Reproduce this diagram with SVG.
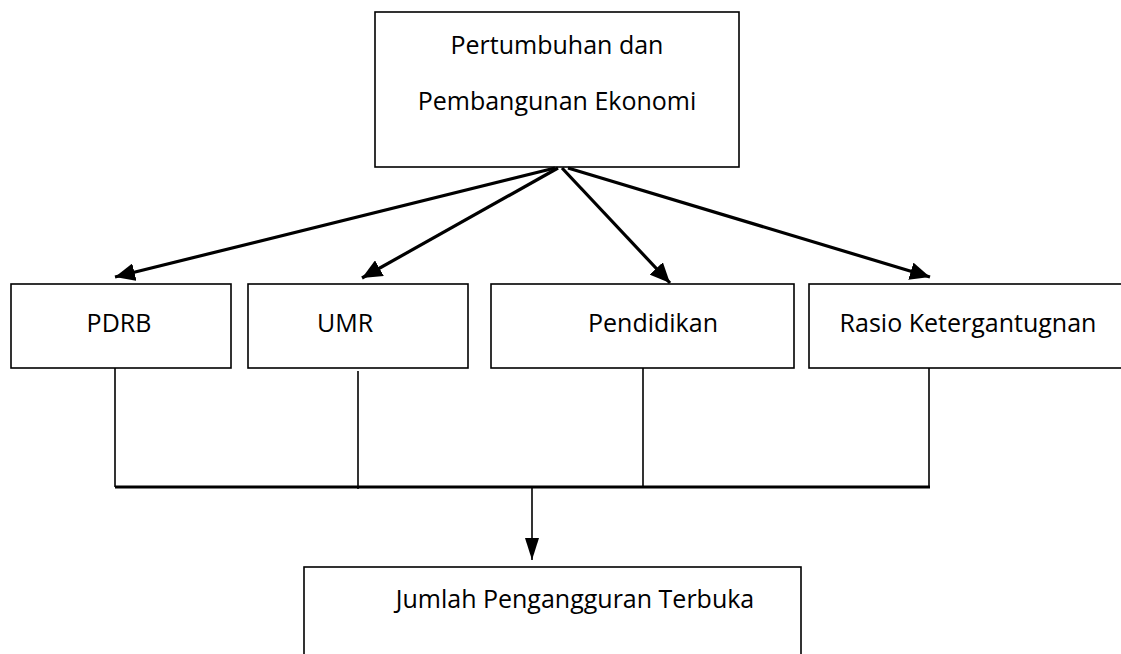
<svg xmlns="http://www.w3.org/2000/svg" width="1121" height="654" viewBox="0 0 1121 654">
<style>
.box{fill:#fff;stroke:#000;stroke-width:1.6}
.t{font-family:"Open Sans","Liberation Sans",sans-serif;font-size:25px;fill:#000;text-anchor:middle}
.arr{stroke:#000;stroke-width:3.2;fill:none;marker-end:url(#ah)}
.thin{stroke:#000;stroke-width:1.6;fill:none}
.bus{stroke:#000;stroke-width:3;fill:none}
</style>
<defs>
<marker id="ah" markerUnits="userSpaceOnUse" markerWidth="22" markerHeight="18" refX="20" refY="9" orient="auto">
<path d="M0,0 L20,9 L0,18 Z" fill="#000"/>
</marker>
<marker id="ah2" markerUnits="userSpaceOnUse" markerWidth="23" markerHeight="14" refX="22" refY="7" orient="auto">
<path d="M0,0 L22,7 L0,14 Z" fill="#000"/>
</marker>
</defs>
<rect width="1121" height="654" fill="#fff"/>
<g id="top">
<rect class="box" x="375" y="12" width="364" height="155"/>
<text class="t" x="557" y="54">Pertumbuhan dan</text>
<text class="t" x="557" y="110">Pembangunan Ekonomi</text>
</g>
<g id="pdrb">
<rect class="box" x="11" y="284" width="220" height="84"/>
<text class="t" x="119" y="332">PDRB</text>
</g>
<g id="umr">
<rect class="box" x="248" y="284" width="220" height="84"/>
<text class="t" x="345" y="332">UMR</text>
</g>
<g id="pendidikan">
<rect class="box" x="491" y="284" width="303" height="84"/>
<text class="t" x="653" y="332">Pendidikan</text>
</g>
<g id="rasio">
<rect class="box" x="809" y="284" width="320" height="84"/>
<text class="t" x="968" y="332">Rasio Ketergantugnan</text>
</g>
<g id="jumlah">
<rect class="box" x="304" y="567" width="497" height="100"/>
<text class="t" x="575" y="608">Jumlah Pengangguran Terbuka</text>
</g>
<g id="connectors">
<line class="arr" x1="555" y1="168" x2="115" y2="277"/>
<line class="arr" x1="558" y1="168" x2="362" y2="278"/>
<line class="arr" x1="562" y1="168" x2="670" y2="283"/>
<line class="arr" x1="568" y1="168" x2="930" y2="277"/>
<line class="thin" x1="115" y1="368" x2="115" y2="487"/>
<line class="thin" x1="358" y1="371" x2="358" y2="489"/>
<line class="thin" x1="643" y1="368" x2="643" y2="487"/>
<line class="thin" x1="929" y1="368" x2="929" y2="487"/>
<line class="bus" x1="115" y1="487" x2="930" y2="487"/>
<line class="thin" x1="532" y1="487" x2="532" y2="560" marker-end="url(#ah2)"/>
</g>
</svg>
